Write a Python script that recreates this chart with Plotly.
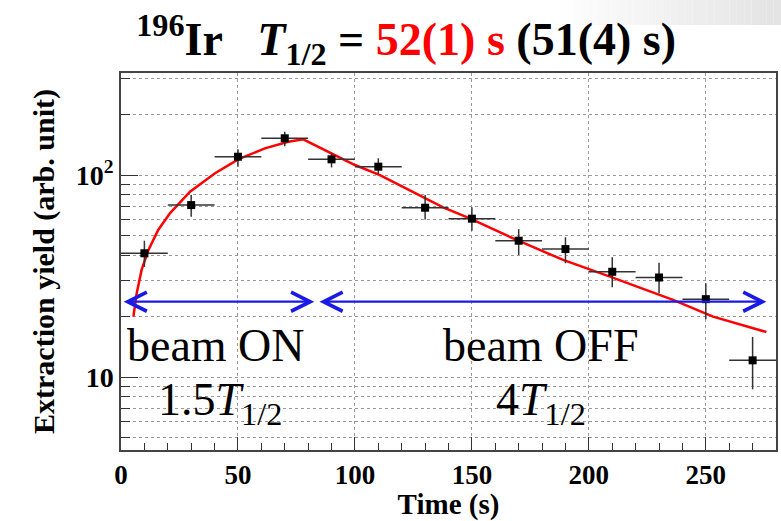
import numpy as np
import plotly.graph_objects as go

# ---------------- data ----------------
time_s = [10, 30, 50, 70, 90, 110, 130, 150, 170, 190, 210, 230, 250, 270]
yield_v = [41.0, 71.0, 123.2, 152.0, 119.6, 110.0, 68.9, 60.8, 47.3, 43.0, 33.2, 31.1, 24.3, 12.1]
yield_up = [47.3, 79.6, 134.0, 163.7, 128.0, 121.0, 79.6, 69.2, 54.0, 49.2, 39.2, 36.8, 29.1, 15.8]
yield_lo = [35.1, 62.2, 110.0, 139.0, 109.0, 101.0, 60.3, 53.0, 40.2, 36.6, 27.8, 26.0, 19.3, 8.7]
bin_half = [10] * len(time_s)

fit_t = [5.3, 6.7, 8.8, 11.7, 15.9, 20.9, 29.5, 40.2, 50.1, 61.5, 71.5, 77.9,
         100, 110.7, 137.7, 149.1, 169.1, 189, 209, 236, 253.1, 275.9]
fit_y = [19.9, 25.9, 33.9, 42.5, 53.5, 64.6, 82.7, 102, 119.6, 135.5, 146, 150.3,
         112.1, 100, 69.2, 61.0, 47.7, 38.0, 31.4, 24.1, 19.9, 16.7]

beam_on = [0.5, 82.6]
beam_off = [84.2, 275.9]
arrow_level = 23.6

x_ticks = [0, 50, 100, 150, 200, 250]
y_ticks = [10, 100]
y_ticktext = ["<b>10</b>", "<b>10<sup>2</sup></b>"]
y_minor = [5, 6, 7, 8, 9, 20, 30, 40, 50, 60, 70, 80, 90, 200, 300]

err_plus = [u - v for u, v in zip(yield_up, yield_v)]
err_minus = [v - l for v, l in zip(yield_v, yield_lo)]

SERIF = "Liberation Serif"

fig = go.Figure()

fig.add_trace(go.Scatter(
    x=fit_t, y=fit_y, mode="lines",
    line=dict(color="#ff0000", width=2.5), showlegend=False, hoverinfo="skip"))

fig.add_trace(go.Scatter(
    x=time_s, y=yield_v, mode="markers",
    marker=dict(symbol="square", size=8, color="black"),
    error_x=dict(type="data", array=bin_half, color="#333333", thickness=1.5, width=0),
    error_y=dict(type="data", array=err_plus, arrayminus=err_minus, symmetric=False,
                 color="#333333", thickness=1.5, width=0),
    showlegend=False))

annotations = []
for seg in (beam_on, beam_off):
    annotations.append(dict(
        x=seg[1], y=np.log10(arrow_level), ax=seg[0], ay=np.log10(arrow_level),
        xref="x", yref="y", axref="x", ayref="y", text="", showarrow=True,
        arrowhead=5, startarrowhead=5, arrowside="end+start",
        arrowsize=1.7, startarrowsize=1.7, arrowwidth=2.2, arrowcolor="#1a1ae6",
        standoff=0, startstandoff=0))

text_font = dict(family=SERIF, size=46, color="black")
annotations += [
    dict(x=40.6, y=np.log10(14.4), xref="x", yref="y", text="beam ON",
         showarrow=False, font=text_font),
    dict(x=42.5, y=np.log10(7.4), xref="x", yref="y", text="1.5<i>T</i><sub>1/2</sub>",
         showarrow=False, font=text_font),
    dict(x=179.5, y=np.log10(14.4), xref="x", yref="y", text="beam OFF",
         showarrow=False, font=text_font),
    dict(x=179.5, y=np.log10(7.4), xref="x", yref="y", text="4<i>T</i><sub>1/2</sub>",
         showarrow=False, font=text_font),
]

# light grey slide-background gradient in the top-right corner
shapes = []
n_steps = 30
for i in range(n_steps):
    x0p = 560 + i * (781 - 560) / n_steps
    x1p = 560 + (i + 1) * (781 - 560) / n_steps
    g = int(255 - (255 - 228) * (i + 1) / n_steps)
    shapes.append(dict(type="rect", xref="paper", yref="paper",
                       x0=(x0p - 121) / 655, x1=(x1p - 121) / 655,
                       y0=(450 - 25) / 377, y1=(450 - 0) / 377,
                       fillcolor=f"rgb({g},{g},{g})", line=dict(width=0), layer="below"))

fig.update_layout(
    width=781, height=521,
    margin=dict(l=121, r=5, t=73, b=71, autoexpand=False),
    paper_bgcolor="white", plot_bgcolor="white",
    title=dict(
        text="<b><sup>196</sup>Ir\u00a0\u00a0\u00a0<i>T</i><sub>1/2</sub> = "
             "<span style='color:#ff0000'>52(1) s</span> (51(4) s)</b>",
        x=0.52, xanchor="center", y=0.925, yanchor="middle",
        font=dict(family=SERIF, size=46, color="black")),
    annotations=annotations,
    shapes=shapes,
    xaxis=dict(
        automargin=False,
        range=[0, 280], tickvals=x_ticks, ticks="inside", ticklen=13, tickwidth=1.2,
        tickcolor="#333", showline=True, mirror=True, linecolor="#444", linewidth=1.5,
        showgrid=True, gridcolor="#9a9a9a", griddash="dot", gridwidth=1, zeroline=False,
        minor=dict(dtick=10, ticks="inside", ticklen=7, tickcolor="#333", showgrid=False),
        tickfont=dict(family=SERIF, size=27, color="black", weight="bold"),
        title=dict(text="<b>Time (s)</b>", standoff=9,
                   font=dict(family=SERIF, size=29, color="black"))),
    yaxis=dict(
        automargin=False,
        type="log", range=[0.639, 2.505], tickvals=y_ticks, ticktext=y_ticktext,
        ticks="inside", ticklen=17, tickwidth=1.2, tickcolor="#333",
        showline=True, mirror=True, linecolor="#444", linewidth=1.5,
        showgrid=True, gridcolor="#9a9a9a", griddash="dot", gridwidth=1, zeroline=False,
        minor=dict(tickmode="array", tickvals=y_minor, ticks="inside", ticklen=9,
                   tickcolor="#333", showgrid=True, gridcolor="#9a9a9a", griddash="dot"),
        tickfont=dict(family=SERIF, size=28, color="black"),
        title=dict(text="<b>Extraction yield (arb. unit)</b>", standoff=12,
                   font=dict(family=SERIF, size=30, color="black"))),
)

fig.write_html("out.html", config={"displayModeBar": False},
               post_script="document.body.style.margin='0';")
